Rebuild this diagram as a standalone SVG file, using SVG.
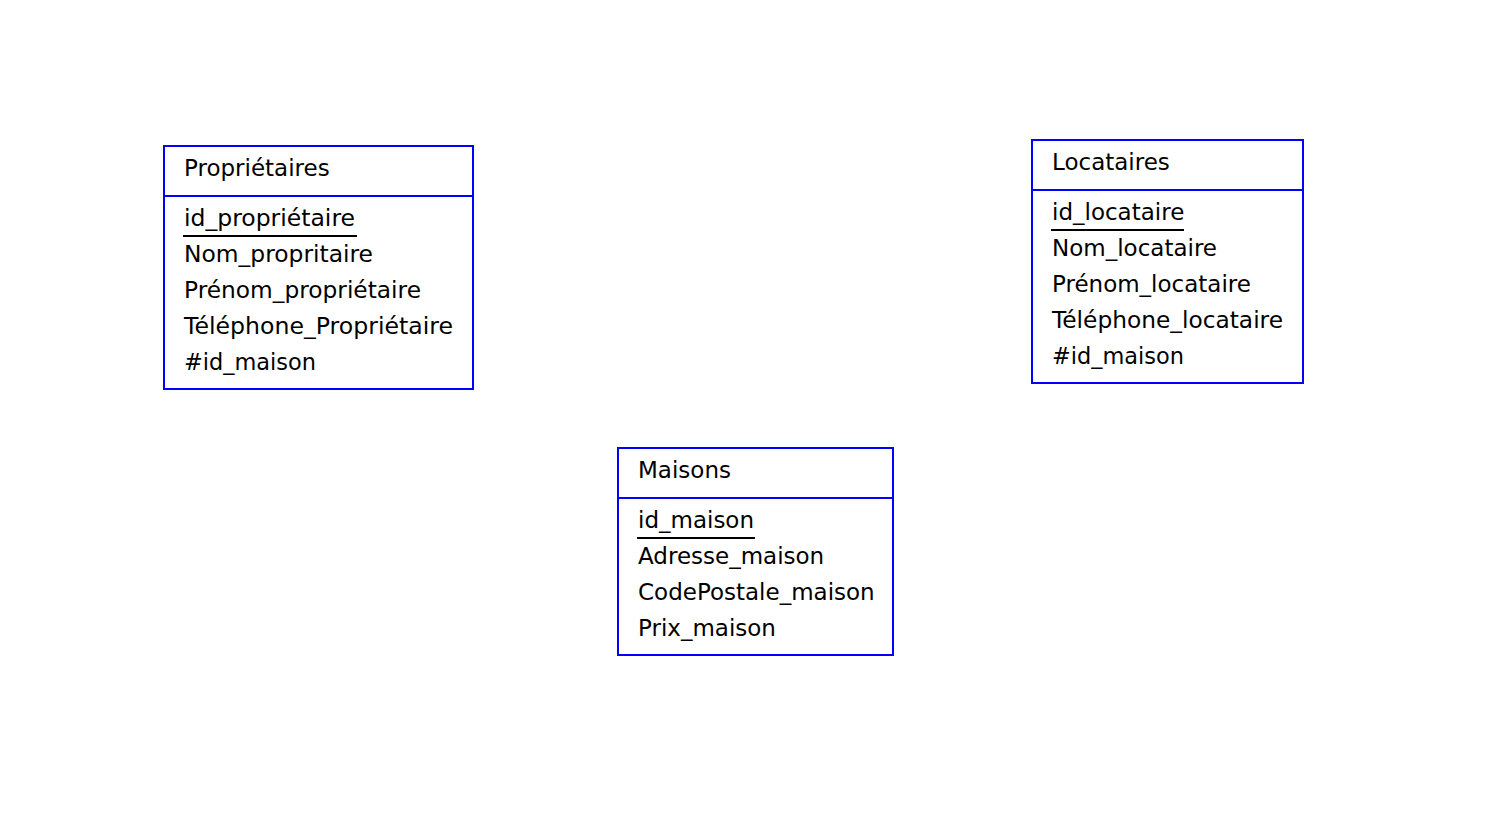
<svg xmlns="http://www.w3.org/2000/svg" width="1512" height="816" viewBox="0 0 1512 816">
<style>
.box{fill:#fff;stroke:#0000ff;stroke-width:2}
.sep{stroke:#0000ff;stroke-width:2}
.ul{stroke:#000;stroke-width:2}
text{font-family:"DejaVu Sans",Verdana,sans-serif;font-size:23px;fill:#000}
</style>
<rect width="1512" height="816" fill="#fff"/>
<g id="proprietaires">
<rect class="box" x="164" y="146" width="309" height="243"/>
<line class="sep" x1="164" y1="196" x2="473" y2="196"/>
<text x="184" y="176">Propriétaires</text>
<text x="184" y="226" textLength="171" lengthAdjust="spacingAndGlyphs">id_propriétaire</text>
<line class="ul" x1="183" y1="236" x2="357" y2="236"/>
<text x="184" y="262" textLength="189" lengthAdjust="spacingAndGlyphs">Nom_propritaire</text>
<text x="184" y="298" textLength="237" lengthAdjust="spacingAndGlyphs">Prénom_propriétaire</text>
<text x="184" y="334" textLength="269" lengthAdjust="spacingAndGlyphs">Téléphone_Propriétaire</text>
<text x="184" y="370" textLength="132" lengthAdjust="spacingAndGlyphs">#id_maison</text>
</g>
<g id="locataires">
<rect class="box" x="1032" y="140" width="271" height="243"/>
<line class="sep" x1="1032" y1="190" x2="1303" y2="190"/>
<text x="1052" y="170">Locataires</text>
<text x="1052" y="220">id_locataire</text>
<line class="ul" x1="1051" y1="230" x2="1184" y2="230"/>
<text x="1052" y="256">Nom_locataire</text>
<text x="1052" y="292">Prénom_locataire</text>
<text x="1052" y="328" textLength="231" lengthAdjust="spacingAndGlyphs">Téléphone_locataire</text>
<text x="1052" y="364" textLength="132" lengthAdjust="spacingAndGlyphs">#id_maison</text>
</g>
<g id="maisons">
<rect class="box" x="618" y="448" width="275" height="207"/>
<line class="sep" x1="618" y1="498" x2="893" y2="498"/>
<text x="638" y="478">Maisons</text>
<text x="638" y="528">id_maison</text>
<line class="ul" x1="637" y1="538" x2="755" y2="538"/>
<text x="638" y="564">Adresse_maison</text>
<text x="638" y="600">CodePostale_maison</text>
<text x="638" y="636">Prix_maison</text>
</g>
<g id="connectors"></g>
</svg>
